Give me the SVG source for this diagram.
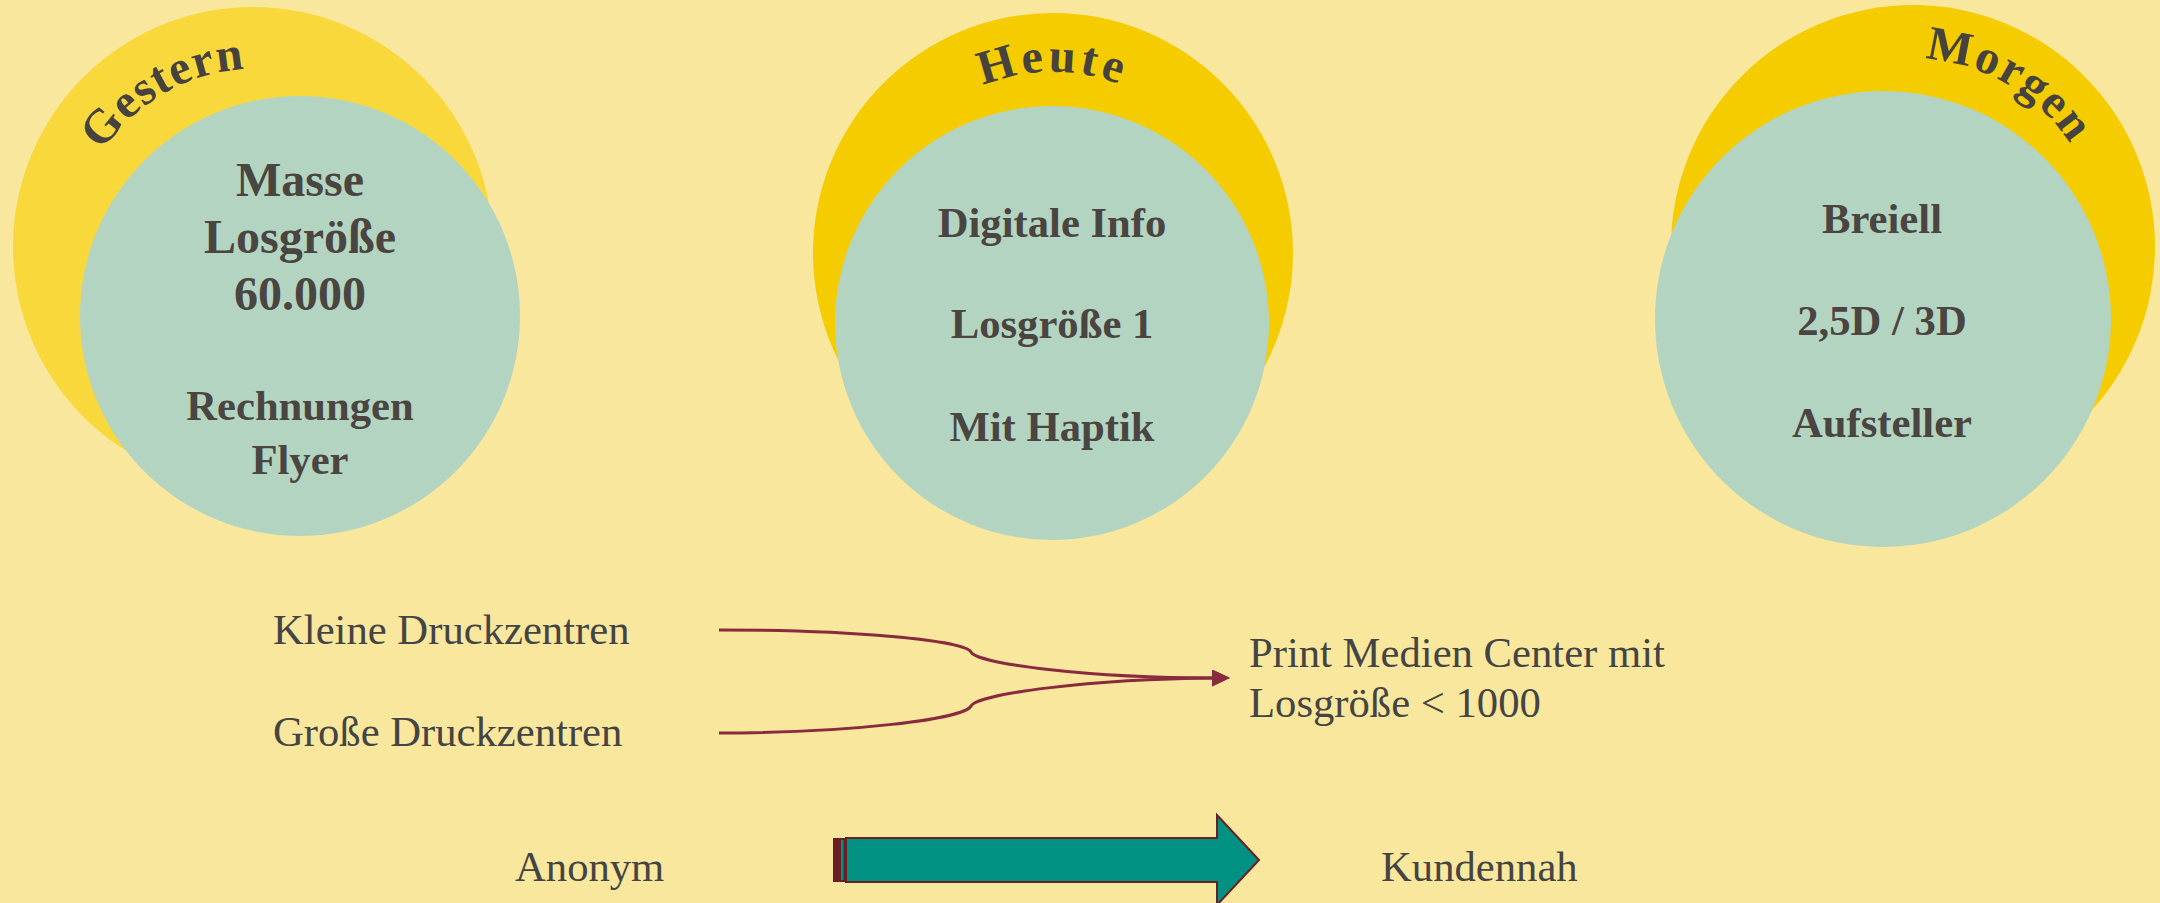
<svg xmlns="http://www.w3.org/2000/svg" width="2160" height="903" viewBox="0 0 2160 903">
  <style>
    .bg { fill: #F8E79C; }
    .sun-a { fill: #F9D83C; }
    .sun-b { fill: #F5CC00; }
    .core { fill: #B4D4C2; }
    .title { font-family: "Liberation Serif", "Times New Roman", serif; font-weight: bold; font-size: 48px; fill: #46423E; }
    .big { font-family: "Liberation Serif", "Times New Roman", serif; font-weight: bold; font-size: 48px; fill: #4A4541; text-anchor: middle; }
    .mid { font-family: "Liberation Serif", "Times New Roman", serif; font-weight: bold; font-size: 42.67px; fill: #4A4541; text-anchor: middle; }
    .plain { font-family: "Liberation Serif", "Times New Roman", serif; font-size: 42.67px; fill: #444444; }
    .flow { fill: none; stroke: #8A2A3E; stroke-width: 3; }
  </style>
  <defs>
    <marker id="head" markerUnits="userSpaceOnUse" markerWidth="20" markerHeight="18" refX="2" refY="8.5" orient="auto">
      <path d="M0,0 L18,8.5 L0,17 Z" fill="#8A2A3E"/>
    </marker>
    <!-- baseline arcs for the curved titles, concentric with each outer circle -->
    <path id="arc-gestern" d="M82,309.2 A183,183 0 0 1 392.4,130"/>
    <path id="arc-heute" d="M874.7,221.6 A181,181 0 0 1 1231.3,221.6"/>
    <path id="arc-morgen" d="M1770,124.9 A188,188 0 0 1 2089.1,312.8"/>
  </defs>

  <rect class="bg" x="0" y="0" width="2160" height="903"/>

  <g id="gestern">
    <circle class="sun-a" cx="253" cy="247" r="240"/>
    <text class="title" letter-spacing="1.2"><textPath href="#arc-gestern" startOffset="50%" text-anchor="middle">Gestern</textPath></text>
    <circle class="core" cx="300" cy="316" r="220"/>
    <text class="big" x="300" y="196">Masse</text>
    <text class="big" x="300" y="253">Losgröße</text>
    <text class="big" x="300" y="310">60.000</text>
    <text class="mid" x="300" y="420">Rechnungen</text>
    <text class="mid" x="300" y="474">Flyer</text>
  </g>

  <g id="heute">
    <circle class="sun-b" cx="1053" cy="253" r="240"/>
    <text class="title" letter-spacing="4.3"><textPath href="#arc-heute" startOffset="50%" text-anchor="middle">Heute</textPath></text>
    <circle class="core" cx="1052" cy="323" r="217"/>
    <text class="mid" x="1052" y="237">Digitale Info</text>
    <text class="mid" x="1052" y="338">Losgröße 1</text>
    <text class="mid" x="1052" y="441">Mit Haptik</text>
  </g>

  <g id="morgen">
    <circle class="sun-b" cx="1913" cy="247" r="242"/>
    <text class="title" letter-spacing="2.3"><textPath href="#arc-morgen" startOffset="50%" text-anchor="middle">Morgen</textPath></text>
    <circle class="core" cx="1883" cy="319" r="228"/>
    <text class="mid" x="1882" y="233">Breiell</text>
    <text class="mid" x="1882" y="335">2,5D / 3D</text>
    <text class="mid" x="1882" y="437">Aufsteller</text>
  </g>

  <g id="kleine">
    <text class="plain" x="273" y="644">Kleine Druckzentren</text>
  </g>
  <g id="grosse">
    <text class="plain" x="273" y="746">Große Druckzentren</text>
  </g>
  <g id="center">
    <text class="plain" x="1249" y="667">Print Medien Center mit</text>
    <text class="plain" x="1249" y="717">Losgröße &lt; 1000</text>
  </g>

  <g id="connectors">
    <path class="flow" d="M719,630 C850,630 965,640 971,652 C977,664 1090,678 1214,678" marker-end="url(#head)"/>
    <path class="flow" d="M719,733 C850,733 965,719 971,706 C977,694 1090,679 1214,678" marker-end="url(#head)"/>
  </g>

  <g id="shift">
    <text class="plain" x="515" y="881">Anonym</text>
    <rect x="833" y="838" width="14" height="44" fill="#6B1E24"/>
    <rect x="841" y="840" width="2.5" height="40" fill="#009183"/>
    <path d="M846,838 L1217,838 L1217,815 L1259,860 L1217,905 L1217,882 L846,882 Z" fill="#009183" stroke="#6B1E24" stroke-width="2"/>
    <text class="plain" x="1381" y="881">Kundennah</text>
  </g>
</svg>
